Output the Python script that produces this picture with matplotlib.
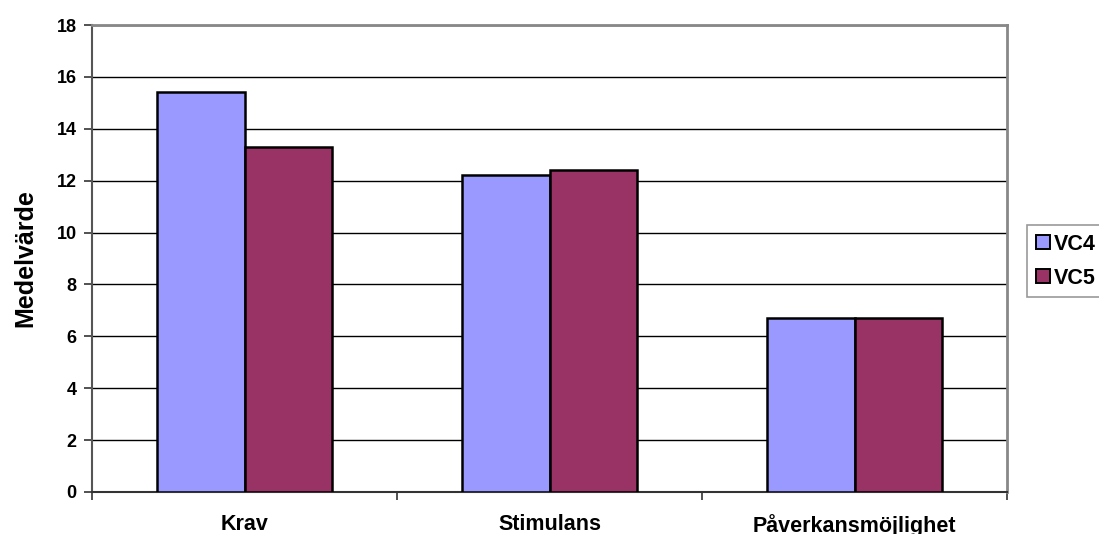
import matplotlib
matplotlib.use("Agg")
import matplotlib.pyplot as plt
import numpy as np

categories = ["Krav", "Stimulans", "Påverkansmöjlighet"]
series_names = ["VC4", "VC5"]
vc4 = [15.4, 12.2, 6.7]
vc5 = [13.3, 12.4, 6.7]
colors = ["#9999FF", "#993366"]
yticks = [0, 2, 4, 6, 8, 10, 12, 14, 16, 18]

plt.rcParams["font.family"] = ["Liberation Sans", "DejaVu Sans"]
plt.rcParams["font.weight"] = "bold"

fig = plt.figure(figsize=(10.99, 5.34), dpi=100)
ax = fig.add_axes([92 / 1099, 42 / 534, 915 / 1099, 467 / 534])

x = np.arange(len(categories))
width = 1 / 3.5
for i, (vals, name) in enumerate(zip([vc4, vc5], series_names)):
    ax.bar(x + (i - 0.5) * width, vals, width, color=colors[i],
           edgecolor="black", linewidth=1.8, label=name, zorder=3)

ax.set_xlim(-0.5, len(categories) - 0.5)
ax.set_ylim(0, 18)
ax.set_yticks(yticks)
ax.set_yticklabels([str(t) for t in yticks], fontsize=13, fontweight="bold")
ax.yaxis.grid(True, color="black", linewidth=1.0, zorder=0)

# category labels centred under each group, ticks on group boundaries
ax.set_xticks(np.arange(-0.5, len(categories)), minor=False)
ax.set_xticklabels([])
ax.set_xticks(x, minor=True)
ax.set_xticklabels(categories, minor=True, fontsize=15.5, fontweight="bold")
ax.tick_params(axis="x", which="minor", length=0, pad=16)
ax.tick_params(axis="x", which="major", length=6, width=1.2, color="#333333", direction="out")
ax.tick_params(axis="y", length=6, width=1.2, color="#333333", direction="out", pad=5)

ax.spines["top"].set_color("#888888")
ax.spines["right"].set_color("#888888")
ax.spines["top"].set_linewidth(2)
ax.spines["right"].set_linewidth(2)
ax.spines["left"].set_color("#555555")
ax.spines["left"].set_linewidth(1.5)
ax.spines["bottom"].set_color("#333333")
ax.spines["bottom"].set_linewidth(1.5)

ax.set_ylabel("Medelvärde", fontsize=18, fontweight="bold", labelpad=14)

leg = fig.legend(loc="upper left", bbox_to_anchor=(1027 / 1099, 1 - 225 / 534),
                 frameon=True, fancybox=False,
                 prop={"weight": "bold", "size": 15.5},
                 handlelength=0.65, handleheight=0.65, handletextpad=0.2,
                 borderpad=0.4, labelspacing=0.6, borderaxespad=0)
leg.get_frame().set_edgecolor("#808080")
leg.get_frame().set_linewidth(1.2)
for h in leg.legend_handles:
    h.set_linewidth(1.4)

fig.savefig("out.png", dpi=100)
